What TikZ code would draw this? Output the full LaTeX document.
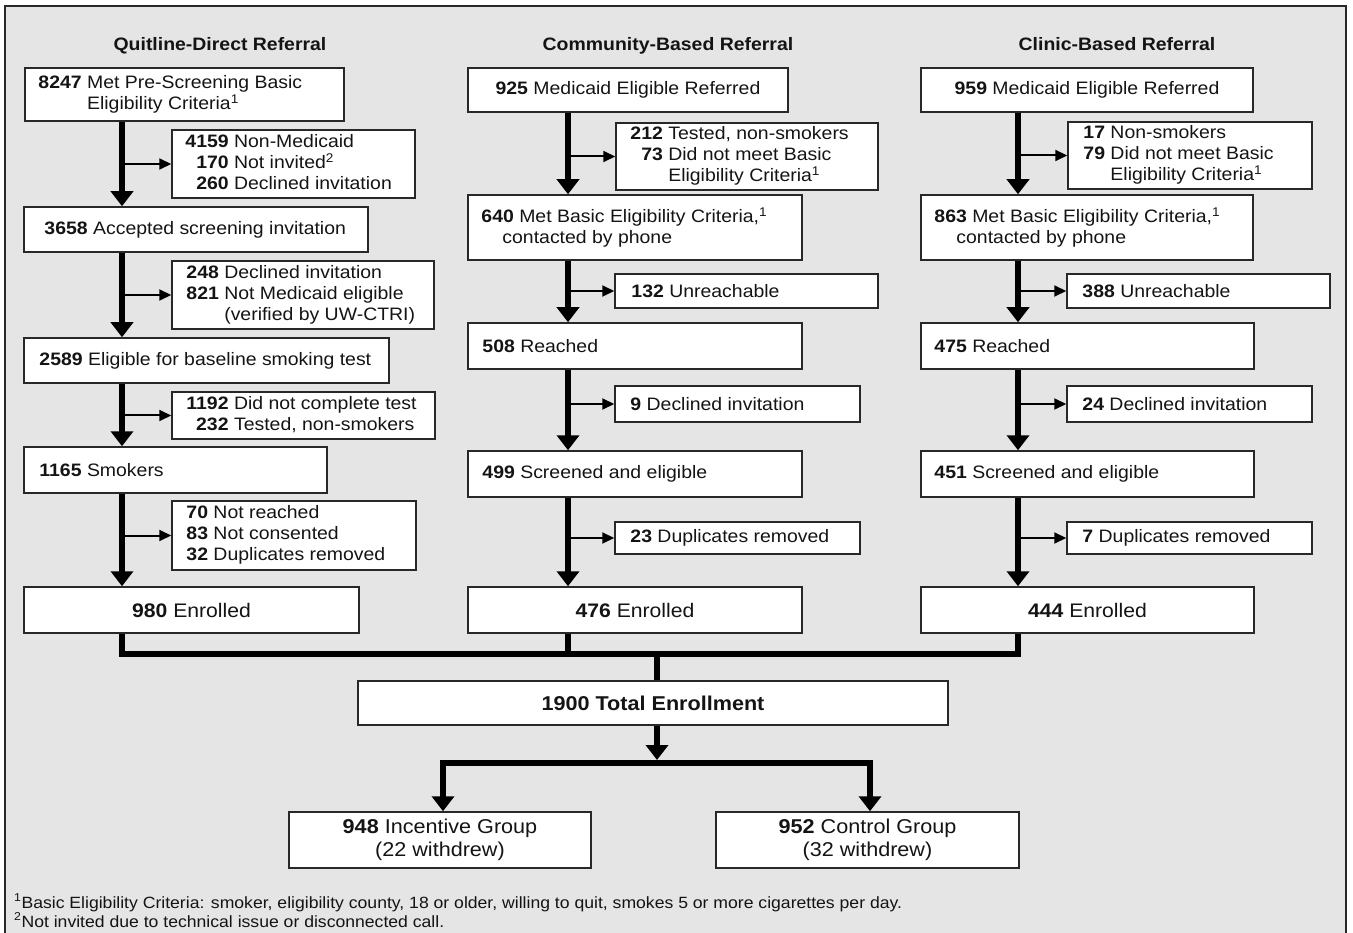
\documentclass[tikz,border=0pt]{standalone}
\usepackage{fontspec}
\setmainfont{Liberation Sans}[FakeStretch=1.08]
\usetikzlibrary{arrows.meta}
\definecolor{bg}{RGB}{229,229,229}
\definecolor{edge}{RGB}{40,40,40}
\definecolor{ink}{RGB}{20,20,20}
\newcommand\fbody{\fontsize{18}{21}\selectfont}
\newcommand\fenr{\fontsize{19.6}{23}\selectfont}
\newcommand\fbig{\fontsize{20}{23}\selectfont}
\newcommand\ffoot{\fontsize{16.3}{19}\selectfont}
\tikzset{
  box/.style={draw=edge, fill=white, line width=1.5pt, inner sep=0pt, text=ink},
  txt/.style={inner sep=0pt, font=\fbody, text=ink, align=left},
  ttl/.style={inner sep=0pt, font=\fbody\bfseries, text=ink, anchor=base},
  footnt/.style={inner sep=0pt, font=\ffoot, text=ink, anchor=base west},
  bigarrow/.style={line width=6pt, draw=black, -{Triangle[width=22pt,length=15pt]}},
  smallarrow/.style={line width=2pt, draw=black, -{Triangle[width=11pt,length=12pt]}},
  thickln/.style={line width=6pt, draw=black, line join=miter},
}
% name, x1, x2, y1, y2, pad, text
\newcommand\Lbox[7]{%
  \node[box, minimum width={#3-#2}, minimum height={#5-#4}] (#1) at ({(#2+#3)/2},{(#4+#5)/2}) {};
  \node[txt, anchor=west] (#1t) at ([xshift=#6pt]#1.west) {#7};}
% name, x1, x2, y1, y2, font, text
\newcommand\Cbox[7]{%
  \node[box, minimum width={#3-#2}, minimum height={#5-#4}, align=center, font=#6] (#1) at ({(#2+#3)/2},{(#4+#5)/2}) {#7};}
\newcommand\TRL[1]{\begin{tabular}{@{}r@{ }l@{}}#1\end{tabular}}
\begin{document}
\begin{tikzpicture}[x=1pt,y=-1pt]
\useasboundingbox (0,0) rectangle (1353,933);
\fill[bg] (5,6) rectangle (1346,933);
\draw[edge, line width=2.5pt] (5,933) -- (5,6) -- (1346,6) -- (1346,933);

% titles
\node[ttl] (T1) at (220,51) {Quitline-Direct Referral};
\node[ttl] (T2) at (668,51) {Community-Based Referral};
\node[ttl] (T3) at (1117,51) {Clinic-Based Referral};

% column 1
\Lbox{A1}{25}{344}{68}{121}{14}{\TRL{\textbf{8247} & Met Pre-Screening Basic\\ & Eligibility Criteria\textsuperscript{1}}}
\Lbox{A1s}{172}{415}{130}{198}{14}{\TRL{\textbf{4159} & Non-Medicaid\\ \textbf{170} & Not invited\textsuperscript{2}\\ \textbf{260} & Declined invitation}}
\Lbox{A2}{24}{368}{207}{252}{21}{\textbf{3658} Accepted screening invitation}
\Lbox{A2s}{172}{434}{261}{329}{15}{\TRL{\textbf{248} & Declined invitation\\ \textbf{821} & Not Medicaid eligible\\ & (verified by UW-CTRI)}}
\Lbox{A3}{24}{389}{338}{383}{16}{\textbf{2589} Eligible for baseline smoking test}
\Lbox{A3s}{172}{435}{392}{439}{15}{\TRL{\textbf{1192} & Did not complete test\\ \textbf{232} & Tested, non-smokers}}
\Lbox{A4}{24}{327}{447}{493}{16}{\textbf{1165} Smokers}
\Lbox{A4s}{172}{416}{501}{570}{15}{\TRL{\textbf{70} & Not reached\\ \textbf{83} & Not consented\\ \textbf{32} & Duplicates removed}}
\Cbox{A5}{24}{359}{587}{633}{\fenr}{\textbf{980} Enrolled}

% column 2
\Cbox{B1}{468}{788}{68}{112}{\fbody}{\textbf{925} Medicaid Eligible Referred}
\Lbox{B1s}{616}{878}{123}{190}{15}{\TRL{\textbf{212} & Tested, non-smokers\\ \textbf{73} & Did not meet Basic\\ & Eligibility Criteria\textsuperscript{1}}}
\Lbox{B2}{468}{802}{195}{260}{14}{\textbf{640} Met Basic Eligibility Criteria,\textsuperscript{1}\\\hspace*{21pt}contacted by phone}
\Lbox{B2s}{615}{878}{274}{308}{17}{\textbf{132} Unreachable}
\Lbox{B3}{468}{802}{323}{369}{15}{\textbf{508} Reached}
\Lbox{B3s}{615}{860}{386}{422}{16}{\textbf{9} Declined invitation}
\Lbox{B4}{468}{802}{451}{497}{15}{\textbf{499} Screened and eligible}
\Lbox{B4s}{615}{860}{522}{554}{16}{\textbf{23} Duplicates removed}
\Cbox{B5}{468}{802}{587}{633}{\fenr}{\textbf{476} Enrolled}

% column 3
\Cbox{C1}{921}{1253}{68}{112}{\fbody}{\textbf{959} Medicaid Eligible Referred}
\Lbox{C1s}{1068}{1312}{122}{189}{16}{\TRL{\textbf{17} & Non-smokers\\ \textbf{79} & Did not meet Basic\\ & Eligibility Criteria\textsuperscript{1}}}
\Lbox{C2}{921}{1253}{195}{260}{14}{\textbf{863} Met Basic Eligibility Criteria,\textsuperscript{1}\\\hspace*{22pt}contacted by phone}
\Lbox{C2s}{1067}{1330}{274}{308}{16}{\textbf{388} Unreachable}
\Lbox{C3}{921}{1254}{323}{369}{14}{\textbf{475} Reached}
\Lbox{C3s}{1067}{1312}{386}{422}{16}{\textbf{24} Declined invitation}
\Lbox{C4}{921}{1254}{451}{497}{14}{\textbf{451} Screened and eligible}
\Lbox{C4s}{1067}{1312}{522}{554}{16}{\textbf{7} Duplicates removed}
\Cbox{C5}{921}{1254}{587}{633}{\fenr}{\textbf{444} Enrolled}

% totals
\Cbox{Tot}{358}{948}{681}{725}{\fbig\bfseries}{1900 Total Enrollment}
\Cbox{Inc}{289}{591}{812}{868}{\fbig}{\textbf{948} Incentive Group\\(22 withdrew)}
\Cbox{Ctl}{716}{1019}{812}{868}{\fbig}{\textbf{952} Control Group\\(32 withdrew)}

% footnotes
\node[footnt] (F1) at (14,908) {\textsuperscript{1}Basic Eligibility Criteria: smoker, eligibility county, 18 or older, willing to quit, smokes 5 or more cigarettes per day.};
\node[footnt] (F2) at (14,927) {\textsuperscript{2}Not invited due to technical issue or disconnected call.};

% helper coordinates
\coordinate (c1) at (122,0);
\coordinate (c2) at (568,0);
\coordinate (c3) at (1018,0);
\coordinate (cT) at (657,0);
\coordinate (j) at (0,654);
\coordinate (sM) at (657,763);
\coordinate (sL) at (443,763);
\coordinate (sR) at (870,763);

% column 1 arrows
\foreach \u/\v in {A1/A2, A2/A3, A3/A4, A4/A5}
  \draw[bigarrow] (c1 |- \u.south) -- (c1 |- \v.north);
\foreach \s in {A1s, A2s, A3s, A4s}
  \draw[smallarrow] (c1 |- \s.west) -- (\s.west);
% column 2 arrows
\foreach \u/\v in {B1/B2, B2/B3, B3/B4, B4/B5}
  \draw[bigarrow] (c2 |- \u.south) -- (c2 |- \v.north);
\foreach \s in {B1s, B2s, B3s, B4s}
  \draw[smallarrow] (c2 |- \s.west) -- (\s.west);
% column 3 arrows
\foreach \u/\v in {C1/C2, C2/C3, C3/C4, C4/C5}
  \draw[bigarrow] (c3 |- \u.south) -- (c3 |- \v.north);
\foreach \s in {C1s, C2s, C3s, C4s}
  \draw[smallarrow] (c3 |- \s.west) -- (\s.west);

% join to total
\draw[thickln] (c1 |- A5.south) -- (c1 |- j) -- (c3 |- j) -- (c3 |- C5.south);
\draw[thickln] (c2 |- B5.south) -- (c2 |- j);
\draw[thickln] (cT |- j) -- (cT |- Tot.north);
\draw[bigarrow] (cT |- Tot.south) -- ([yshift=3pt]sM);
\draw[bigarrow] (sM) -- (sL) -- (sL |- Inc.north);
\draw[bigarrow] (sM) -- (sR) -- (sR |- Ctl.north);
\end{tikzpicture}
\end{document}
